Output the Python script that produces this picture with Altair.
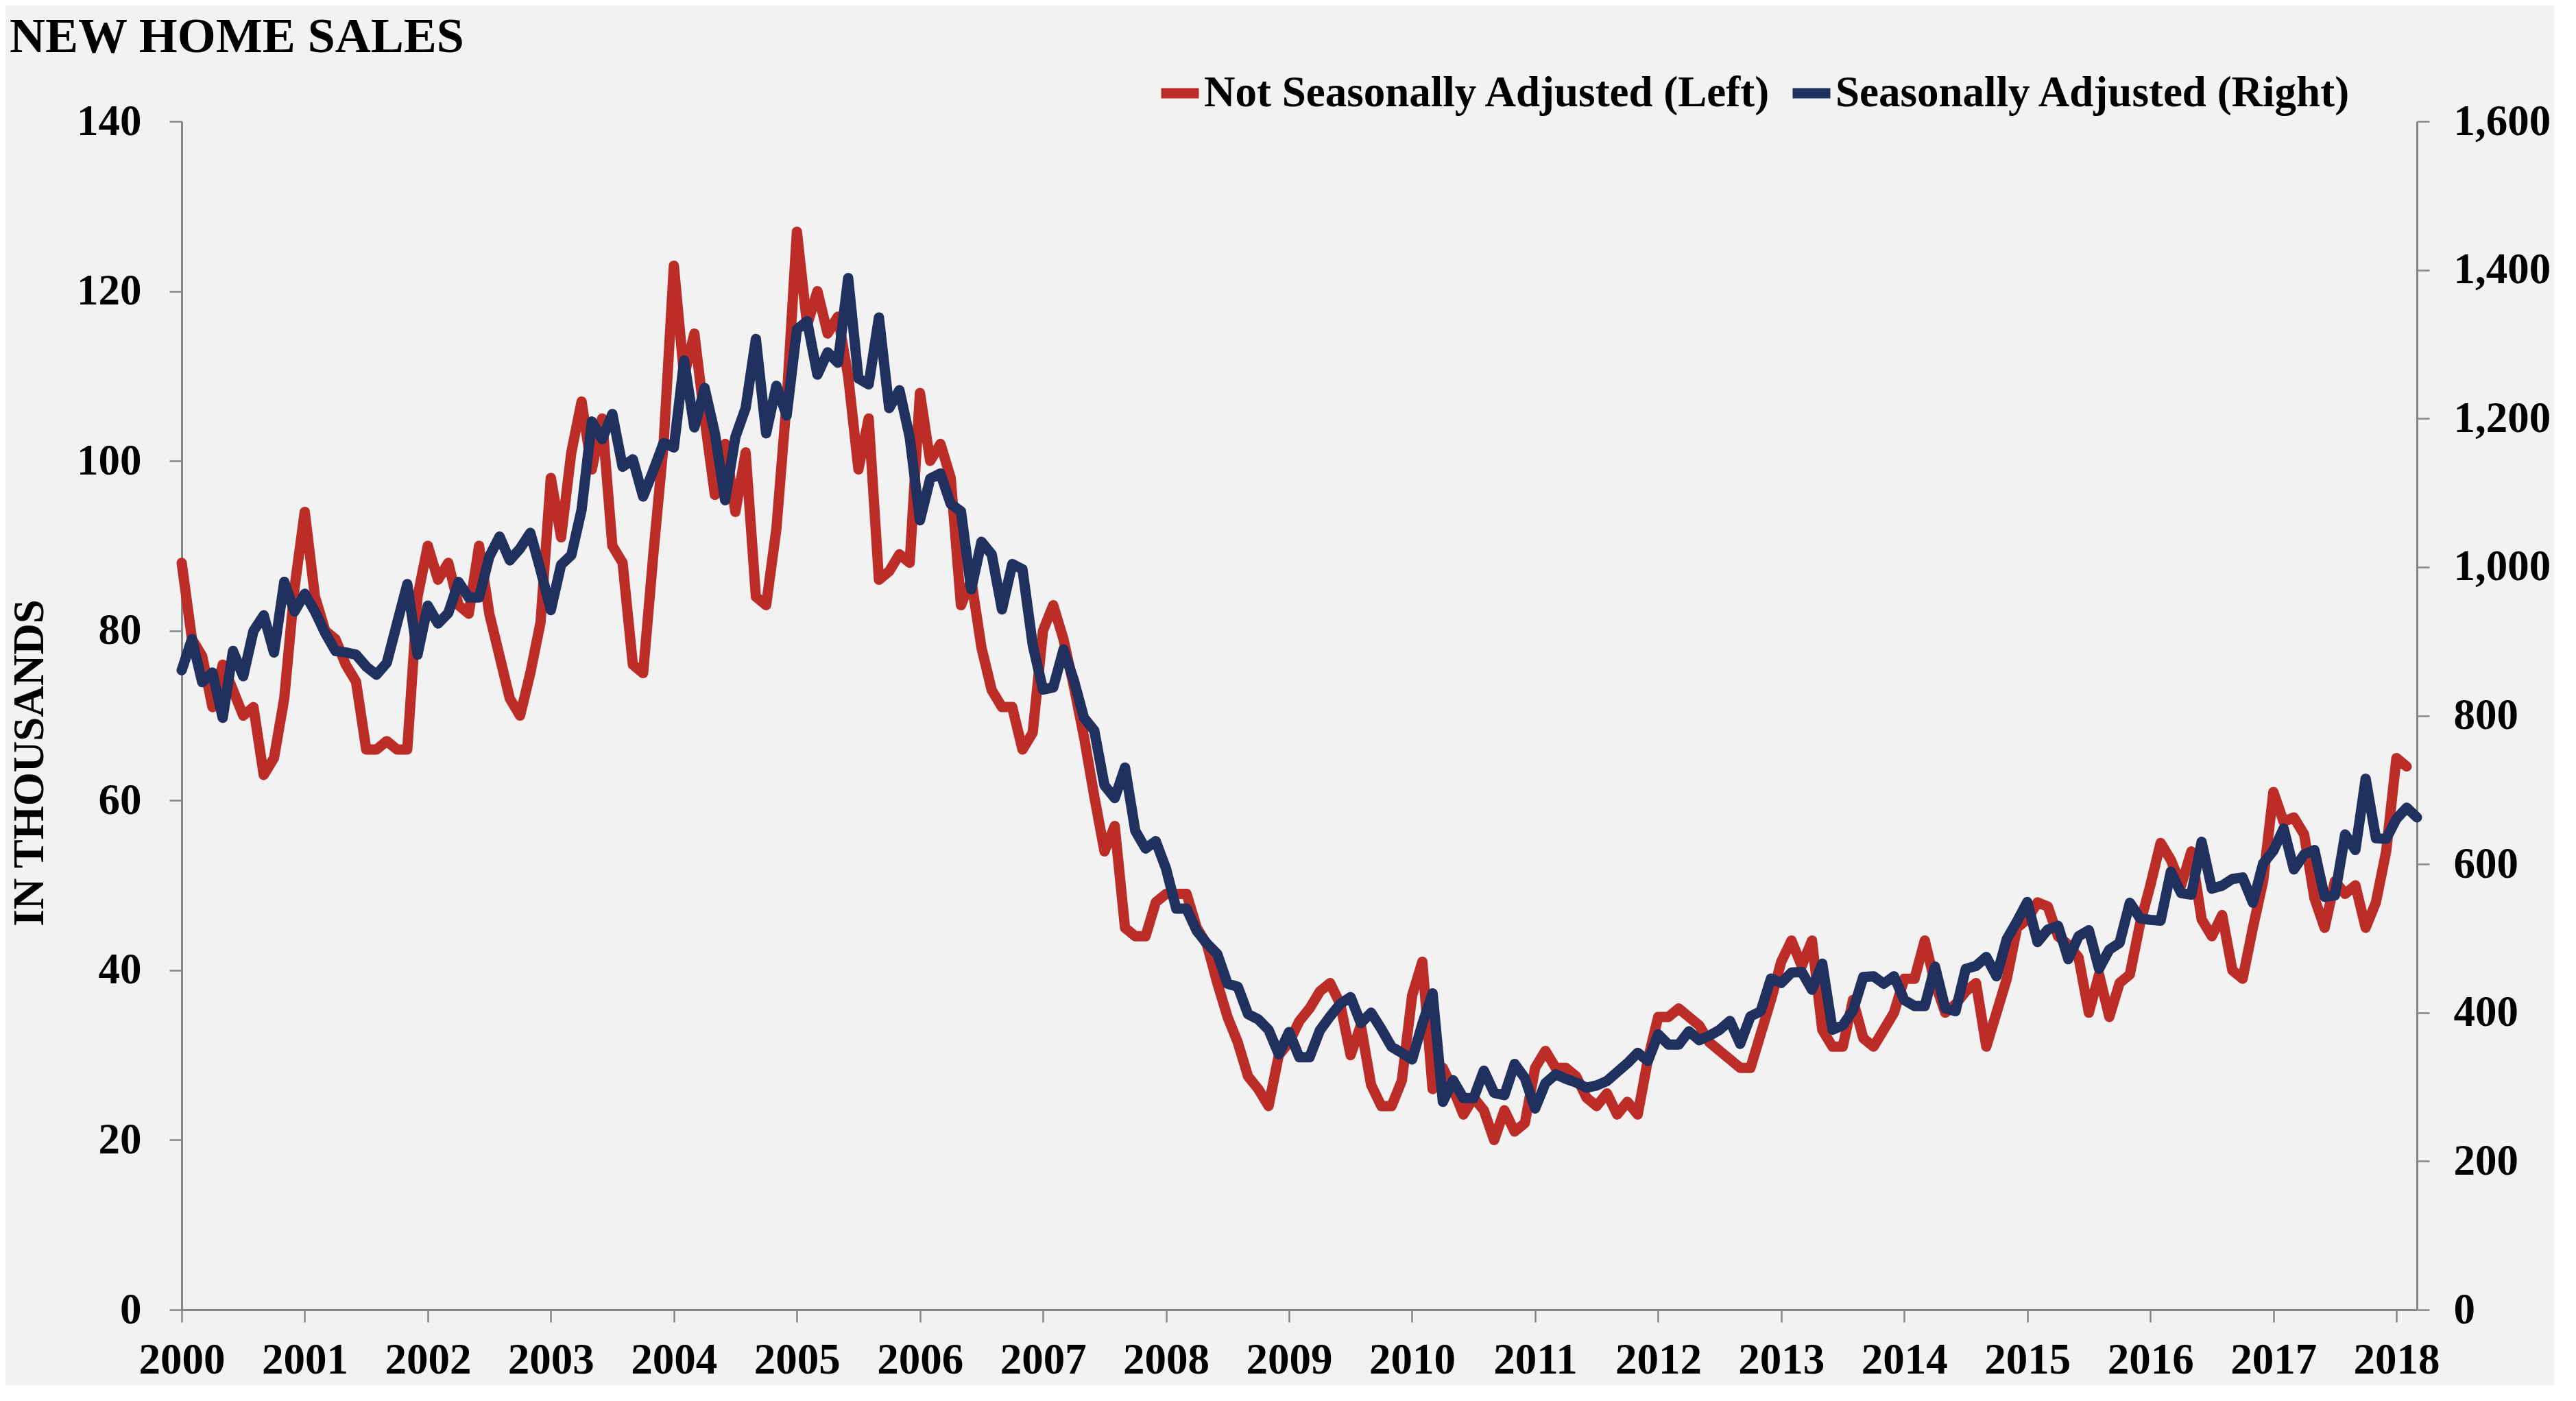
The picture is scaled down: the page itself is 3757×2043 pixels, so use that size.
import altair as alt
import pandas as pd

# ---- data (monthly, starting Jan 2000 on the chart axis) ----
nsa = [
    88, 79, 77, 71, 76, 73, 70, 71, 63, 65, 72, 85,
    94, 84, 80, 79, 76, 74, 66, 66, 67, 66, 66, 84,
    90, 86, 88, 83, 82, 90, 82, 77, 72, 70, 75, 81,
    98, 91, 101, 107, 99, 105, 90, 88, 76, 75, 89, 102,
    123, 110, 115, 105, 96, 102, 94, 101, 84, 83, 92, 107,
    127, 116, 120, 115, 117, 110, 99, 105, 86, 87, 89, 88,
    108, 100, 102, 98, 83, 86, 78, 73, 71, 71, 66, 68,
    80, 83, 79, 73.5, 67.5, 60.5, 54, 57, 45, 44, 44, 48,
    49, 49, 49, 45, 43, 38.5, 34.5, 31.5, 27.5, 26, 24, 30,
    31.5, 34, 35.5, 37.5, 38.5, 36, 30, 33.5, 26.5, 24, 24, 27,
    37, 41, 26, 28.5, 26, 23, 25, 23.5, 20, 23.5, 21, 22,
    28.5, 30.5, 28.5, 28.5, 27.5, 25, 24, 25.5, 23, 24.5, 23, 29.5,
    34.5, 34.5, 35.5, 34.5, 33.5, 31.5, 30.5, 29.5, 28.5, 28.5, 32.5, 36.5,
    41, 43.5, 40.5, 43.5, 33, 31, 31, 36.5, 32, 31, 33, 35,
    39, 39, 43.5, 38.5, 35, 36, 37.5, 38.5, 31, 35, 39, 45,
    46, 48, 47.5, 44, 43, 41.5, 35, 39.5, 34.5, 38.5, 39.5, 45.5,
    50, 55, 53, 50, 54, 46, 44, 46.5, 40, 39, 45, 50.5,
    61, 57.5, 58, 56, 48.5, 45, 50.5, 49, 50, 45, 48, 54,
    65, 64,
]

sa = [
    861, 903, 845, 858, 797, 887, 853, 914, 935, 885, 980, 940,
    964, 940, 911, 887, 885, 882, 866, 855, 871, 924, 977, 882,
    948, 924, 938, 980, 959, 959, 1014, 1041, 1009, 1025, 1046, 996,
    942, 1003, 1016, 1077, 1196, 1172, 1206, 1135, 1145, 1095, 1130, 1167,
    1161, 1278, 1188, 1241, 1180, 1090, 1175, 1214, 1307, 1180, 1244, 1204,
    1320, 1331, 1259, 1289, 1275, 1389, 1254, 1246, 1336, 1214, 1238, 1175,
    1063, 1119, 1126, 1085, 1075, 970, 1034, 1017, 943, 1004, 997, 895,
    835, 838, 889, 848, 797, 780, 706, 689, 730, 645, 621, 631,
    594, 540, 540, 510, 493, 479, 439, 435, 398, 391, 377, 344,
    374, 340, 340, 376, 395, 412, 421, 386, 400, 378, 354, 346,
    337, 385, 426, 280, 309, 285, 285, 322, 292, 289, 331, 312,
    271, 305, 317, 311, 306, 299, 302, 308, 320, 332, 346, 335,
    371, 357, 357, 375, 363, 369, 377, 389, 358, 395, 402, 446,
    440, 454, 455, 431, 466, 377, 383, 403, 448, 449, 439, 449,
    417, 409, 409, 462, 406, 402, 459, 463, 475, 449, 499, 523,
    549, 495, 512, 517, 472, 503, 511, 459, 485, 494, 548, 527,
    525, 524, 590, 561, 559, 630, 567, 571, 580, 582, 548, 601,
    618, 648, 593, 613, 619, 556, 558, 640, 619, 715, 635, 634,
    661, 676, 663,
]

years = list(range(2000, 2019))
left_ticks = [0, 20, 40, 60, 80, 100, 120, 140]
right_ticks = [0, 200, 400, 600, 800, 1000, 1200, 1400, 1600]

NSA_NAME = "Not Seasonally Adjusted (Left)"
SA_NAME = "Seasonally Adjusted (Right)"
RED = "#BD2D28"
NAVY = "#21315F"
FONT = "Liberation Serif"
GRAY = "#868686"

df_nsa = pd.DataFrame({"month": list(range(len(nsa))), "value": nsa, "series": NSA_NAME})
df_sa = pd.DataFrame({"month": list(range(len(sa))), "value": sa, "series": SA_NAME})

tick_months = [(y - 2000) * 12 for y in years]

x_enc = alt.X(
    "month:Q",
    scale=alt.Scale(domain=[0, 218], nice=False, zero=False),
    axis=alt.Axis(
        values=tick_months,
        labelExpr="'' + (2000 + datum.value / 12)",
        title=None,
        grid=False,
        labelPadding=24,
        labelFlush=False,
        labelOverlap=False,
    ),
)

color_enc = alt.Color(
    "series:N",
    scale=alt.Scale(domain=[NSA_NAME, SA_NAME], range=[RED, NAVY]),
    legend=alt.Legend(
        title=None,
        orient="none",
        legendX=1421,
        legendY=-76,
        direction="horizontal",
        columns=2,
        symbolType="stroke",
        symbolSize=3025,
        symbolStrokeWidth=15,
        labelFont=FONT,
        labelFontSize=63,
        labelFontWeight="bold",
        labelColor="#000000",
        labelOffset=0,
        labelLimit=2000,
        columnPadding=0,
        padding=0,
    ),
)

line_kw = dict(strokeWidth=15, strokeJoin="round", strokeCap="round")

left = alt.Chart(df_nsa).mark_line(**line_kw).encode(
    x=x_enc,
    y=alt.Y(
        "value:Q",
        scale=alt.Scale(domain=[0, 140], nice=False),
        axis=alt.Axis(
            orient="left",
            values=left_ticks,
            title="IN THOUSANDS",
            titleFont=FONT,
            titleFontSize=63,
            titleFontWeight="bold",
            titleColor="#000000",
            titleAngle=-90,
            titleAlign="center",
            titleBaseline="middle",
            titleX=-222,
            titleY=935,
            labelPadding=41,
            grid=False,
        ),
    ),
    color=color_enc,
)

right = alt.Chart(df_sa).mark_line(**line_kw).encode(
    x=x_enc,
    y=alt.Y(
        "value:Q",
        scale=alt.Scale(domain=[0, 1600], nice=False),
        axis=alt.Axis(
            orient="right",
            values=right_ticks,
            format=",d",
            title=None,
            labelAlign="left",
            labelPadding=35,
            grid=False,
        ),
    ),
    color=color_enc,
)

chart = (
    alt.layer(left, right)
    .resolve_scale(y="independent")
    .properties(
        width=3260,
        height=1733,
        autosize=alt.AutoSizeParams(type="none"),
        padding={"left": 257, "top": 169, "right": 200, "bottom": 110},
        title=alt.TitleParams(
            text="NEW HOME SALES",
            anchor="start",
            frame="group",
            dx=-251,
            offset=10,
            font=FONT,
            fontSize=72,
            fontWeight="bold",
            color="#000000",
        ),
    )
    .configure(background="#F2F2F2")
    .configure_view(stroke=None)
    .configure_axis(
        domainColor=GRAY,
        domainWidth=3,
        tickColor=GRAY,
        tickWidth=2.5,
        tickSize=18,
        labelFont=FONT,
        labelFontSize=63,
        labelFontWeight="bold",
        labelColor="#000000",
    )
)

chart.save("out.html", embed_options={"renderer": "svg", "actions": False})
